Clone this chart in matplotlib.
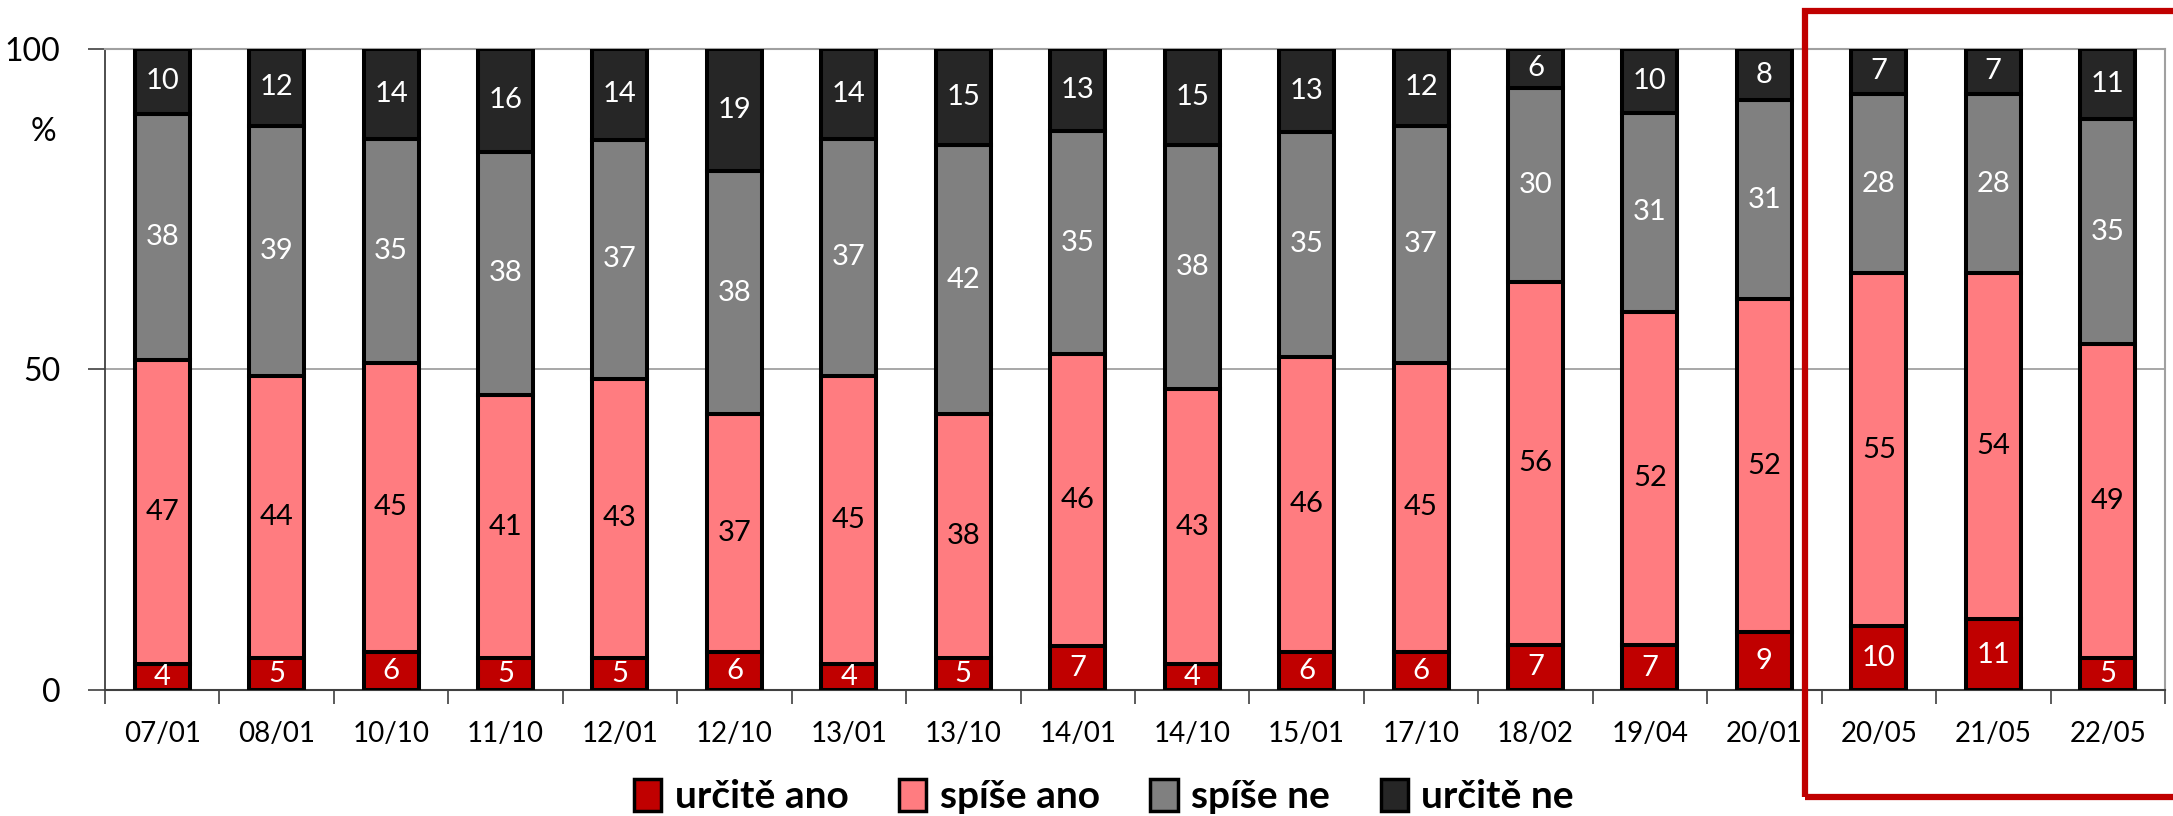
import numpy as np
import matplotlib.pyplot as plt
from matplotlib.patches import Rectangle

plt.rcParams['font.family'] = ['Lato', 'DejaVu Sans']

# survey waves
waves = ['07/01', '08/01', '10/10', '11/10', '12/01', '12/10', '13/01', '13/10', '14/01',
         '14/10', '15/01', '17/10', '18/02', '19/04', '20/01', '20/05', '21/05', '22/05']

# answers in %
urcite_ano = [4, 5, 6, 5, 5, 6, 4, 5, 7, 4, 6, 6, 7, 7, 9, 10, 11, 5]
spise_ano = [47, 44, 45, 41, 43, 37, 45, 38, 46, 43, 46, 45, 56, 52, 52, 55, 54, 49]
spise_ne = [38, 39, 35, 38, 37, 38, 37, 42, 35, 38, 35, 37, 30, 31, 31, 28, 28, 35]
urcite_ne = [10, 12, 14, 16, 14, 19, 14, 15, 13, 15, 13, 12, 6, 10, 8, 7, 7, 11]

series = [
    ('určitě ano', urcite_ano, '#C00000', 'white'),
    ('spíše ano', spise_ano, '#FF7C80', 'black'),
    ('spíše ne', spise_ne, '#808080', 'white'),
    ('určitě ne', urcite_ne, '#262626', 'white'),
]

fig = plt.figure(figsize=(21.73, 8.16), dpi=100)
ax = fig.add_axes([0.0483, 0.1544, 0.948, 0.7856])

# 100% stacked columns: each column scaled to its own total
totals = np.sum([s[1] for s in series], axis=0).astype(float)

x = np.arange(len(waves))
bottom = np.zeros(len(waves))
for name, vals, col, tcol in series:
    vals = np.array(vals, dtype=float)
    h = vals / totals * 100
    ax.bar(x, h, 0.48, bottom=bottom, color=col, edgecolor='black',
           linewidth=2.9, label=name, zorder=3)
    for xi, b, hh, v in zip(x, bottom, h, vals):
        ax.text(xi, b + hh / 2, f'{v:.0f}', ha='center', va='center',
                color=tcol, fontsize=21, zorder=4)
    bottom += h

ax.set_xlim(-0.5, len(waves) - 0.5)
ax.set_ylim(0, 100)
ax.set_yticks([0, 50, 100])
ax.set_yticklabels(['0', '50', '100'], fontsize=23)
ax.set_xticks(x)
ax.set_xticklabels(waves, fontsize=20)
ax.tick_params(axis='x', length=0, pad=22)
ax.set_xticks(np.arange(len(waves) + 1) - 0.5, minor=True)
ax.tick_params(axis='x', which='minor', length=10, width=1.2, color='#404040', direction='out')
ax.tick_params(axis='y', length=12, width=1.2, color='#404040', pad=20)

ax.yaxis.grid(True, color='#A0A0A0', linewidth=1.3, zorder=0)
ax.spines['top'].set_color('#A0A0A0')
ax.spines['top'].set_linewidth(1.5)
ax.spines['right'].set_color('#A0A0A0')
ax.spines['right'].set_linewidth(1.5)
ax.spines['left'].set_color('#404040')
ax.spines['left'].set_linewidth(1.3)
ax.spines['bottom'].set_color('#404040')
ax.spines['bottom'].set_linewidth(1.5)

ax.text(-0.03, 0.87, '%', transform=ax.transAxes, fontsize=23, ha='center', va='center')

leg = fig.legend(loc='center', bbox_to_anchor=(0.508, 0.024), ncol=4, frameon=False,
                 prop={'weight': 'bold', 'size': 28}, handlelength=0.7, handleheight=0.9,
                 handletextpad=0.35, columnspacing=1.3, borderaxespad=0)
for h in leg.legend_handles:
    h.set_linewidth(2.5)

# highlight last three waves
fig.patches.append(Rectangle((0.8307, 0.0233), 0.2, 0.963, transform=fig.transFigure,
                             fill=False, edgecolor='#C00000', linewidth=4.5))

fig.savefig('out.png', dpi=100)
